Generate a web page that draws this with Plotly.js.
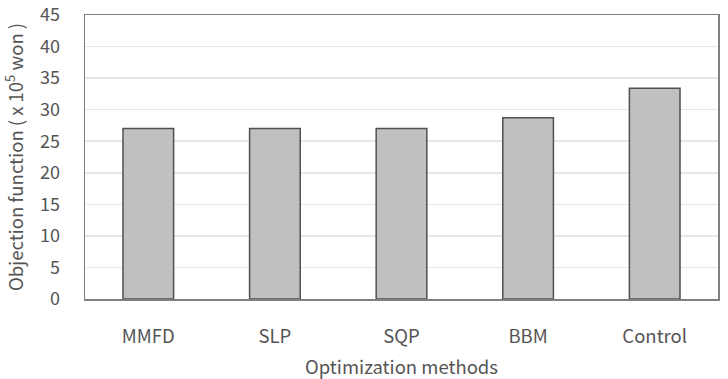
<!DOCTYPE html>
<html>
<head>
<meta charset="utf-8">
<script src="https://cdn.plot.ly/plotly-3.0.1.min.js"></script>
<style>
  html, body { margin: 0; padding: 0; background: #fff; }
  #chart { width: 728px; height: 379px; }
</style>
</head>
<body>
<div id="chart"></div>
<script>
// Objective function value for each optimization method
const methods = ["MMFD", "SLP", "SQP", "BBM", "Control"];
const objective = [27.0, 27.0, 27.0, 28.7, 33.4];
const yTicks = [0, 5, 10, 15, 20, 25, 30, 35, 40, 45];

const textColor = "#555555";
const fontFamily = "'Noto Sans CJK KR', 'Noto Sans', sans-serif";
const fontSize = 18;

const trace = {
  type: "bar",
  x: methods,
  y: objective,
  marker: {
    color: "#c0c0c0",
    line: { color: "#505050", width: 1.5 }
  },
  hoverinfo: "x+y"
};

const layout = {
  width: 728,
  height: 379,
  margin: { l: 85, r: 10, t: 15, b: 80 },
  paper_bgcolor: "#ffffff",
  plot_bgcolor: "#ffffff",
  bargap: 0.6,
  showlegend: false,
  font: { family: fontFamily, size: fontSize, color: textColor },
  xaxis: {
    type: "category",
    showgrid: false,
    showline: true,
    linecolor: "#808080",
    linewidth: 1.5,
    mirror: true,
    ticks: "",
    ticklabelstandoff: 20,
    tickfont: { size: 18.5, color: textColor },
    title: {
      text: "Optimization methods",
      font: { size: 18.5, color: textColor },
      standoff: 24
    }
  },
  yaxis: {
    range: [0, 45],
    tickvals: yTicks,
    ticklabeloverflow: "allow",
    showgrid: true,
    gridcolor: "#e6e6e6",
    gridwidth: 1.5,
    zeroline: false,
    showline: true,
    linecolor: "#808080",
    linewidth: 1.5,
    mirror: true,
    ticks: "",
    ticklabelstandoff: 20,
    tickfont: { size: fontSize, color: textColor },
    title: {
      text: "Objection function ( x 10<sup>5</sup> won )",
      font: { size: 18.5, color: textColor },
      standoff: 11
    }
  }
};

Plotly.newPlot("chart", [trace], layout, { displayModeBar: false, staticPlot: true });
</script>
</body>
</html>
